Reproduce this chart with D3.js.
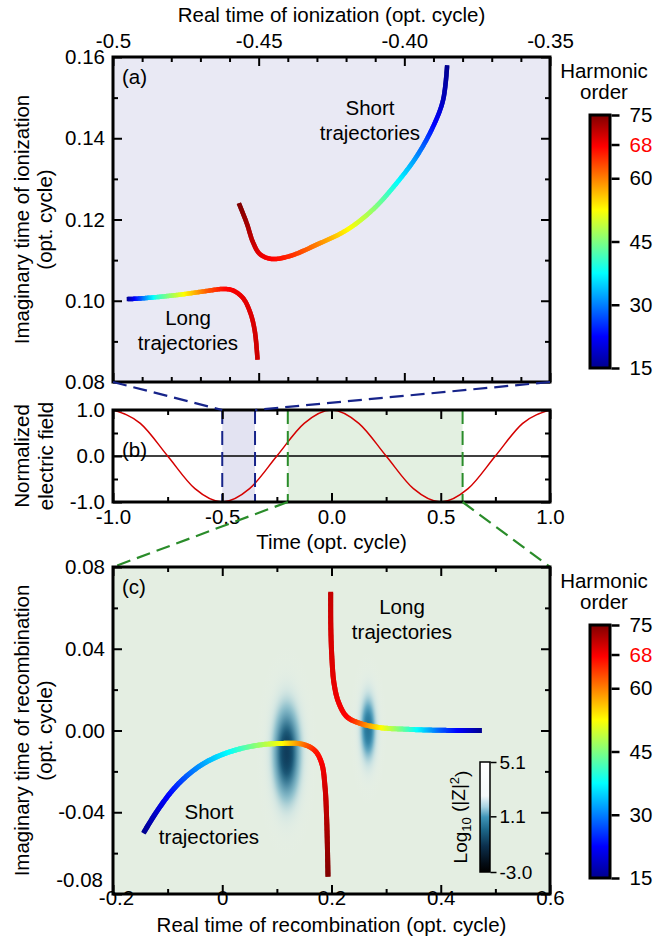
<!DOCTYPE html>
<html>
<head>
<meta charset="utf-8">
<script src="https://cdn.jsdelivr.net/npm/d3@7"></script>
<style>
  html, body { margin: 0; padding: 0; background: #ffffff; }
  svg { display: block; font-family: "Liberation Sans", Arial, Helvetica, sans-serif; }
</style>
</head>
<body>
<svg id="fig" width="654" height="948"></svg>
<script>
// ---------------- data ----------------
// (a) complex ionization times: real part, imaginary part, harmonic order
const ionLongRe    = [-0.4953, -0.4919, -0.4850, -0.4759, -0.4679, -0.4621, -0.4587, -0.4553, -0.4528, -0.4513, -0.4504];
const ionLongIm    = [0.1004, 0.1005, 0.1009, 0.1016, 0.1024, 0.1029, 0.1025, 0.1006, 0.0969, 0.0924, 0.0855];
const ionLongOrder = [15, 24, 40, 52.5, 62, 67, 68, 69, 69.5, 70, 70.5];

const ionShortRe    = [-0.3853, -0.3867, -0.3901, -0.3958, -0.4027, -0.4107, -0.4198, -0.4301, -0.4393, -0.4456, -0.4496, -0.4519, -0.4541, -0.4568];
const ionShortIm    = [0.1580, 0.1494, 0.1429, 0.1355, 0.1289, 0.1225, 0.1174, 0.1138, 0.1110, 0.1103, 0.1115, 0.1143, 0.1191, 0.1240];
const ionShortOrder = [15, 18, 23, 31, 38, 46, 53, 60, 65, 67.5, 69, 71, 73, 75];

// (c) complex recombination times
const recShortRe    = [-0.1445, -0.1200, -0.0896, -0.0590, -0.0285, 0.0142, 0.0630, 0.1118, 0.1484, 0.1698, 0.1821, 0.1881, 0.1912, 0.1936];
const recShortIm    = [-0.0503, -0.0397, -0.0288, -0.0209, -0.0153, -0.0104, -0.0073, -0.0063, -0.0068, -0.0099, -0.0161, -0.0275, -0.0438, -0.0715];
const recShortOrder = [15, 19, 24, 29, 33, 38, 46, 53, 61, 66, 68, 70, 72, 75];

const recLongRe    = [0.1985, 0.1987, 0.2009, 0.2046, 0.2125, 0.2278, 0.2522, 0.2888, 0.3377, 0.3986, 0.4750];
const recLongIm    = [0.0679, 0.0508, 0.0345, 0.0231, 0.0141, 0.0068, 0.0035, 0.0014, 0.0006, 0.0001, 0.0000];
const recLongOrder = [71, 70, 69.5, 69, 68.5, 67.5, 62, 53, 42, 28, 15];

// (c) saddle-point weight |Z|^2 : centres, half-widths, peak log10 value
const blobRe     = [0.118, 0.267];
const blobIm     = [-0.011, 0.001];
const blobHalfRe = [0.056, 0.034];
const blobHalfIm = [0.052, 0.037];
const blobPeak   = [-0.8, 0.4];

// (b) normalized driving field
const fieldTime  = [-1.0, -0.875, -0.75, -0.625, -0.5, -0.375, -0.25, -0.125, 0.0, 0.125, 0.25, 0.375, 0.5, 0.625, 0.75, 0.875, 1.0];
const fieldValue = [1.0, 0.71, 0.0, -0.71, -1.0, -0.71, 0.0, 0.71, 1.0, 0.71, 0.0, -0.71, -1.0, -0.71, 0.0, 0.71, 1.0];
const ionWindow = [-0.5, -0.35];
const recWindow = [-0.2, 0.6];

// axes
const ionReDomain = [-0.5, -0.35];
const ionImDomain = [0.08, 0.16];
const ionReTicks = [-0.5, -0.45, -0.40, -0.35];
const ionReLabels = ["-0.5", "-0.45", "-0.40", "-0.35"];
const ionReMinor = [-0.49, -0.48, -0.47, -0.46, -0.44, -0.43, -0.42, -0.41, -0.39, -0.38, -0.37, -0.36];
const ionImTicks = [0.08, 0.10, 0.12, 0.14, 0.16];
const ionImLabels = ["0.08", "0.10", "0.12", "0.14", "0.16"];
const ionImMinor = [0.09, 0.11, 0.13, 0.15];

const timeDomain = [-1, 1];
const fieldDomain = [-1, 1];
const timeTicks = [-1, -0.5, 0, 0.5, 1];
const timeLabels = ["-1.0", "-0.5", "0.0", "0.5", "1.0"];
const timeMinor = [-0.75, -0.25, 0.25, 0.75];
const fieldTicks = [-1, 0, 1];
const fieldLabels = ["-1.0", "0.0", "1.0"];
const fieldMinor = [-0.5, 0.5];

const recReDomain = [-0.2, 0.6];
const recImDomain = [-0.08, 0.08];
const recReTicks = [-0.2, 0, 0.2, 0.4, 0.6];
const recReLabels = ["-0.2", "0", "0.2", "0.4", "0.6"];
const recReMinor = [-0.1, 0.1, 0.3, 0.5];
const recImTicks = [-0.08, -0.04, 0, 0.04, 0.08];
const recImLabels = ["-0.08", "-0.04", "0.00", "0.04", "0.08"];
const recImMinor = [-0.06, -0.02, 0.02, 0.06];

// harmonic-order colour bar (jet)
const orderDomain = [15, 75];
const orderTicks = [15, 30, 45, 60, 68, 75];
const orderLabels = ["15", "30", "45", "60", "68", "75"];
const jetOrders = [15, 22.5, 37.5, 52.5, 67.5, 75];
const jetColors = ["#00008f", "#0000ff", "#00ffff", "#ffff00", "#ff0000", "#800000"];

// |Z|^2 colour bar
const zDomain = [-3.0, 5.1];
const zTicks = [-3.0, 1.1, 5.1];
const zLabels = ["-3.0", "1.1", "5.1"];
const zStops  = [-3.0, -2.4, -1.1, 0.1, 1.05, 1.8, 2.6, 5.1];
const zColors = ["#000000", "#030b14", "#0b2f4c", "#1c6688", "#3f95b8", "#a8d2e2", "#f4f8fa", "#ffffff"];

// ---------------- drawing ----------------
const svg = d3.select("#fig");
const defs = svg.append("defs");
const FONT = 20.5;

const jet = d3.scaleLinear().domain(jetOrders).range(jetColors).clamp(true);
const zColor = d3.scaleLinear().domain(zStops).range(zColors).clamp(true);

const L = 113, R = 550;
const boxA = { x0: L, x1: R, y0: 57, y1: 382 };
const boxB = { x0: L, x1: R, y0: 410, y1: 502 };
const boxC = { x0: L, x1: R, y0: 567, y1: 894 };

const xA = d3.scaleLinear().domain(ionReDomain).range([boxA.x0, boxA.x1]);
const yA = d3.scaleLinear().domain(ionImDomain).range([boxA.y1, boxA.y0]);
const xB = d3.scaleLinear().domain(timeDomain).range([boxB.x0, boxB.x1]);
const yB = d3.scaleLinear().domain(fieldDomain).range([boxB.y1, boxB.y0]);
const xC = d3.scaleLinear().domain(recReDomain).range([boxC.x0, boxC.x1]);
const yC = d3.scaleLinear().domain(recImDomain).range([boxC.y1, boxC.y0]);

function styleAxis(g) {
  g.attr("font-size", null).attr("font-family", null);
  g.select(".domain").remove();
  g.selectAll(".tick line").attr("stroke", "#000").attr("stroke-width", 2);
  g.selectAll(".tick text").attr("font-size", FONT).attr("fill", "#000");
}

// frame with inward major/minor ticks on all four sides
function frameAxes(g, xs, ys, box, o) {
  const MAJ = 9, MIN = 5;
  const lab = (arr, ticks) => (d) => { const i = ticks.indexOf(d); return i >= 0 ? arr[i] : ""; };
  // bottom
  const bottom = g.append("g").attr("transform", `translate(0,${box.y1})`)
    .call(d3.axisBottom(xs).tickValues(o.xTicks).tickSizeInner(-MAJ).tickSizeOuter(0)
      .tickPadding(o.bottomPad).tickFormat(o.xBottomLabels ? lab(o.xLabels, o.xTicks) : () => ""))
    .call(styleAxis);
  g.append("g").attr("transform", `translate(0,${box.y1})`)
    .call(d3.axisBottom(xs).tickValues(o.xMinor).tickSizeInner(-MIN).tickSizeOuter(0).tickFormat(() => ""))
    .call(styleAxis);
  // top
  g.append("g").attr("transform", `translate(0,${box.y0})`)
    .call(d3.axisTop(xs).tickValues(o.xTicks).tickSizeInner(-MAJ).tickSizeOuter(0)
      .tickPadding(o.topPad || 0).tickFormat(o.xTopLabels ? lab(o.xLabels, o.xTicks) : () => ""))
    .call(styleAxis);
  g.append("g").attr("transform", `translate(0,${box.y0})`)
    .call(d3.axisTop(xs).tickValues(o.xMinor).tickSizeInner(-MIN).tickSizeOuter(0).tickFormat(() => ""))
    .call(styleAxis);
  // left
  const left = g.append("g").attr("transform", `translate(${box.x0},0)`)
    .call(d3.axisLeft(ys).tickValues(o.yTicks).tickSizeInner(-MAJ).tickSizeOuter(0)
      .tickPadding(8).tickFormat(lab(o.yLabels, o.yTicks)))
    .call(styleAxis);
  g.append("g").attr("transform", `translate(${box.x0},0)`)
    .call(d3.axisLeft(ys).tickValues(o.yMinor).tickSizeInner(-MIN).tickSizeOuter(0).tickFormat(() => ""))
    .call(styleAxis);
  // right
  g.append("g").attr("transform", `translate(${box.x1},0)`)
    .call(d3.axisRight(ys).tickValues(o.yTicks).tickSizeInner(-MAJ).tickSizeOuter(0).tickFormat(() => ""))
    .call(styleAxis);
  g.append("g").attr("transform", `translate(${box.x1},0)`)
    .call(d3.axisRight(ys).tickValues(o.yMinor).tickSizeInner(-MIN).tickSizeOuter(0).tickFormat(() => ""))
    .call(styleAxis);
  // frame
  g.append("rect").attr("x", box.x0).attr("y", box.y0)
    .attr("width", box.x1 - box.x0).attr("height", box.y1 - box.y0)
    .attr("fill", "none").attr("stroke", "#000").attr("stroke-width", 3);
  return { left, bottom };
}

// colour-coded trajectory: smooth path through the points, coloured by harmonic order
function drawTrajectory(g, xs, ys, re, im, order, width) {
  const pts = re.map((r, i) => [xs(r), ys(im[i])]);
  const guide = g.append("path")
    .attr("d", d3.line().curve(d3.curveCatmullRom.alpha(0.5))(pts))
    .attr("fill", "none").attr("stroke", "none");
  const node = guide.node();
  const len = node.getTotalLength();
  const n = Math.max(2, Math.ceil(len / 1.2));
  const s = d3.range(n + 1).map(i => { const p = node.getPointAtLength(len * i / n); return [p.x, p.y]; });
  const idx = [0];
  let start = 0;
  for (let k = 1; k < pts.length - 1; k++) {
    let best = start, bd = Infinity;
    for (let i = start; i <= n; i++) {
      const d = (s[i][0] - pts[k][0]) ** 2 + (s[i][1] - pts[k][1]) ** 2;
      if (d < bd) { bd = d; best = i; }
    }
    best = Math.max(best, idx[idx.length - 1] + 1);
    idx.push(best); start = best;
  }
  idx.push(n);
  const ordAt = d3.scaleLinear().domain(idx).range(order);
  const seg = g.append("g").attr("fill", "none").attr("stroke-width", width).attr("stroke-linecap", "butt");
  for (let i = 0; i < n; i++) {
    const j = Math.min(i + 2, n);
    seg.append("path")
      .attr("d", d3.line()(s.slice(i, j + 1)))
      .attr("stroke", jet(ordAt(i + 0.5)));
  }
  guide.remove();
}

function centeredText(g, x, y, txt, opts = {}) {
  return g.append("text").attr("x", x).attr("y", y).attr("dy", "0.35em")
    .attr("text-anchor", opts.anchor || "middle").attr("font-size", opts.size || FONT)
    .attr("fill", opts.fill || "#000").text(txt);
}
function verticalText(g, x, y, txt) {
  return g.append("text").attr("transform", `translate(${x},${y}) rotate(-90)`)
    .attr("dy", "0.35em").attr("text-anchor", "middle").attr("font-size", FONT).attr("fill", "#000").text(txt);
}

// harmonic-order colour bar
const gradJet = defs.append("linearGradient").attr("id", "jetGrad")
  .attr("x1", 0).attr("y1", 1).attr("x2", 0).attr("y2", 0);
jetOrders.forEach((o, i) => gradJet.append("stop")
  .attr("offset", (o - orderDomain[0]) / (orderDomain[1] - orderDomain[0])).attr("stop-color", jetColors[i]));

function orderColorbar(yTop, yBottom) {
  const g = svg.append("g");
  const sc = d3.scaleLinear().domain(orderDomain).range([yBottom, yTop]);
  const bx = 590, bw = 20;
  g.append("rect").attr("x", bx).attr("y", sc(orderDomain[1])).attr("width", bw)
    .attr("height", sc(orderDomain[0]) - sc(orderDomain[1]))
    .attr("fill", "url(#jetGrad)").attr("stroke", "#000").attr("stroke-width", 3);
  const ax = g.append("g").attr("transform", `translate(${bx + bw + 1.5},0)`)
    .call(d3.axisRight(sc).tickValues(orderTicks).tickSizeInner(8).tickSizeOuter(0).tickPadding(10)
      .tickFormat(d => orderLabels[orderTicks.indexOf(d)]))
    .call(styleAxis);
  ax.selectAll(".tick line").attr("stroke-width", 2.5);
  ax.selectAll(".tick text").attr("fill", d => d === 68 ? "#ff0000" : "#000");
  centeredText(g, 604, yTop - 44, "Harmonic");
  centeredText(g, 604, yTop - 23, "order");
}

// ---------- panel (a) ----------
const gA = svg.append("g");
gA.append("rect").attr("x", boxA.x0).attr("y", boxA.y0)
  .attr("width", boxA.x1 - boxA.x0).attr("height", boxA.y1 - boxA.y0).attr("fill", "#e9e9f4");
drawTrajectory(gA, xA, yA, ionLongRe, ionLongIm, ionLongOrder, 4.5);
drawTrajectory(gA, xA, yA, ionShortRe, ionShortIm, ionShortOrder, 4.5);
centeredText(gA, 370, 108, "Short");
centeredText(gA, 370, 133, "trajectories");
centeredText(gA, 188, 318, "Long");
centeredText(gA, 188, 343, "trajectories");
centeredText(gA, 122, 77, "(a)", { anchor: "start" });
frameAxes(gA, xA, yA, boxA, {
  xTicks: ionReTicks, xLabels: ionReLabels, xMinor: ionReMinor, xTopLabels: true, topPad: 9, bottomPad: 0,
  yTicks: ionImTicks, yLabels: ionImLabels, yMinor: ionImMinor
});
centeredText(gA, (boxA.x0 + boxA.x1) / 2, 15, "Real time of ionization (opt. cycle)");
verticalText(gA, 22, (boxA.y0 + boxA.y1) / 2, "Imaginary time of ionization");
verticalText(gA, 45, (boxA.y0 + boxA.y1) / 2, "(opt. cycle)");
orderColorbar(115, 368);

// ---------- panel (b) ----------
const gB = svg.append("g");
gB.append("rect").attr("x", xB(ionWindow[0])).attr("y", boxB.y0)
  .attr("width", xB(ionWindow[1]) - xB(ionWindow[0])).attr("height", boxB.y1 - boxB.y0).attr("fill", "#e3e3f2");
gB.append("rect").attr("x", xB(recWindow[0])).attr("y", boxB.y0)
  .attr("width", xB(recWindow[1]) - xB(recWindow[0])).attr("height", boxB.y1 - boxB.y0).attr("fill", "#e3f0e1");
gB.append("line").attr("x1", boxB.x0).attr("x2", boxB.x1).attr("y1", yB(0)).attr("y2", yB(0))
  .attr("stroke", "#000").attr("stroke-width", 1.5);
gB.append("path").datum(fieldTime.map((t, i) => [t, fieldValue[i]]))
  .attr("d", d3.line().x(d => xB(d[0])).y(d => yB(d[1])).curve(d3.curveMonotoneX))
  .attr("fill", "none").attr("stroke", "#d40000").attr("stroke-width", 1.5);

const NAVY = "#17248a", GREEN = "#2a8c2a", DASH = "14,7";
ionWindow.forEach(t => gB.append("line").attr("x1", xB(t)).attr("x2", xB(t)).attr("y1", boxB.y0).attr("y2", boxB.y1)
  .attr("stroke", NAVY).attr("stroke-width", 2).attr("stroke-dasharray", DASH));
recWindow.forEach(t => gB.append("line").attr("x1", xB(t)).attr("x2", xB(t)).attr("y1", boxB.y0).attr("y2", boxB.y1)
  .attr("stroke", GREEN).attr("stroke-width", 2).attr("stroke-dasharray", DASH));
centeredText(gB, 122, 450, "(b)", { anchor: "start" });
frameAxes(gB, xB, yB, boxB, {
  xTicks: timeTicks, xLabels: timeLabels, xMinor: timeMinor, xBottomLabels: true, bottomPad: 7,
  yTicks: fieldTicks, yLabels: fieldLabels, yMinor: fieldMinor
});
centeredText(gB, (boxB.x0 + boxB.x1) / 2, 542, "Time (opt. cycle)");
verticalText(gB, 22, (boxB.y0 + boxB.y1) / 2, "Normalized");
verticalText(gB, 46, (boxB.y0 + boxB.y1) / 2, "electric field");

// connectors between panels
const conn = svg.append("g").attr("fill", "none").attr("stroke-width", 2.2).attr("stroke-dasharray", DASH);
conn.append("line").attr("x1", boxA.x0).attr("y1", boxA.y1).attr("x2", xB(ionWindow[0])).attr("y2", boxB.y0).attr("stroke", NAVY);
conn.append("line").attr("x1", boxA.x1).attr("y1", boxA.y1).attr("x2", xB(ionWindow[1])).attr("y2", boxB.y0).attr("stroke", NAVY);
conn.append("line").attr("x1", xB(recWindow[0])).attr("y1", boxB.y1).attr("x2", boxC.x0).attr("y2", boxC.y0).attr("stroke", GREEN);
conn.append("line").attr("x1", xB(recWindow[1])).attr("y1", boxB.y1).attr("x2", boxC.x1).attr("y2", boxC.y0).attr("stroke", GREEN);

// ---------- panel (c) ----------
const gC = svg.append("g");
gC.append("rect").attr("x", boxC.x0).attr("y", boxC.y0)
  .attr("width", boxC.x1 - boxC.x0).attr("height", boxC.y1 - boxC.y0).attr("fill", "#e4eee2");

blobRe.forEach((re, k) => {
  const grad = defs.append("radialGradient").attr("id", `blob${k}`);
  d3.range(0, 1.0001, 0.05).forEach(r => {
    const g = Math.exp(-4.2 * r * r);
    grad.append("stop").attr("offset", r)
      .attr("stop-color", zColor(blobPeak[k] + (2.6 - blobPeak[k]) * (1 - g)))
      .attr("stop-opacity", Math.min(1, 1.15 * g));
  });
  gC.append("ellipse")
    .attr("cx", xC(re)).attr("cy", yC(blobIm[k]))
    .attr("rx", xC(re + blobHalfRe[k]) - xC(re))
    .attr("ry", yC(blobIm[k]) - yC(blobIm[k] + blobHalfIm[k]))
    .attr("fill", `url(#blob${k})`);
});

drawTrajectory(gC, xC, yC, recShortRe, recShortIm, recShortOrder, 5);
drawTrajectory(gC, xC, yC, recLongRe, recLongIm, recLongOrder, 5);
centeredText(gC, 402, 607, "Long");
centeredText(gC, 402, 632, "trajectories");
centeredText(gC, 209, 812, "Short");
centeredText(gC, 209, 837, "trajectories");
centeredText(gC, 122, 587, "(c)", { anchor: "start" });

// |Z|^2 colour bar
const gradZ = defs.append("linearGradient").attr("id", "zGrad").attr("x1", 0).attr("y1", 1).attr("x2", 0).attr("y2", 0);
zStops.forEach((v, i) => gradZ.append("stop")
  .attr("offset", (v - zDomain[0]) / (zDomain[1] - zDomain[0])).attr("stop-color", zColors[i]));
const zScale = d3.scaleLinear().domain(zDomain).range([872, 762]);
gC.append("rect").attr("x", 480).attr("y", zScale(zDomain[1])).attr("width", 10)
  .attr("height", zScale(zDomain[0]) - zScale(zDomain[1]))
  .attr("fill", "url(#zGrad)").attr("stroke", "#000").attr("stroke-width", 1.5);
const zAx = gC.append("g").attr("transform", "translate(490.5,0)")
  .call(d3.axisRight(zScale).tickValues(zTicks).tickSizeInner(6).tickSizeOuter(0).tickPadding(3)
    .tickFormat(d => zLabels[zTicks.indexOf(d)]))
  .call(styleAxis);
zAx.selectAll(".tick line").attr("stroke-width", 1.5);
zAx.selectAll(".tick text").attr("font-size", 19);
const zt = gC.append("text").attr("transform", "translate(460,817) rotate(-90)")
  .attr("dy", "0.35em").attr("text-anchor", "middle").attr("font-size", 19).attr("fill", "#000");
zt.append("tspan").text("Log");
zt.append("tspan").attr("font-size", 13).attr("dy", "0.3em").text("10");
zt.append("tspan").attr("dy", "-0.3em").text(" (|Z|");
zt.append("tspan").attr("font-size", 13).attr("dy", "-0.45em").text("2");
zt.append("tspan").attr("dy", "0.45em").text(")");

const axC = frameAxes(gC, xC, yC, boxC, {
  xTicks: recReTicks, xLabels: recReLabels, xMinor: recReMinor, xBottomLabels: true, bottomPad: -4,
  yTicks: recImTicks, yLabels: recImLabels, yMinor: recImMinor
});
// keep the corner labels apart: lift the lowest y label, nudge the first x label right
axC.left.selectAll(".tick text").filter(d => d === recImDomain[0]).attr("y", -14).attr("x", -10);
axC.bottom.selectAll(".tick text").filter(d => d === recReDomain[0]).attr("dx", 3);
centeredText(gC, (boxC.x0 + boxC.x1) / 2, 925, "Real time of recombination (opt. cycle)");
verticalText(gC, 22, (boxC.y0 + boxC.y1) / 2, "Imaginary time of recombination");
verticalText(gC, 45, (boxC.y0 + boxC.y1) / 2, "(opt. cycle)");
orderColorbar(625, 878);
</script>
</body>
</html>
